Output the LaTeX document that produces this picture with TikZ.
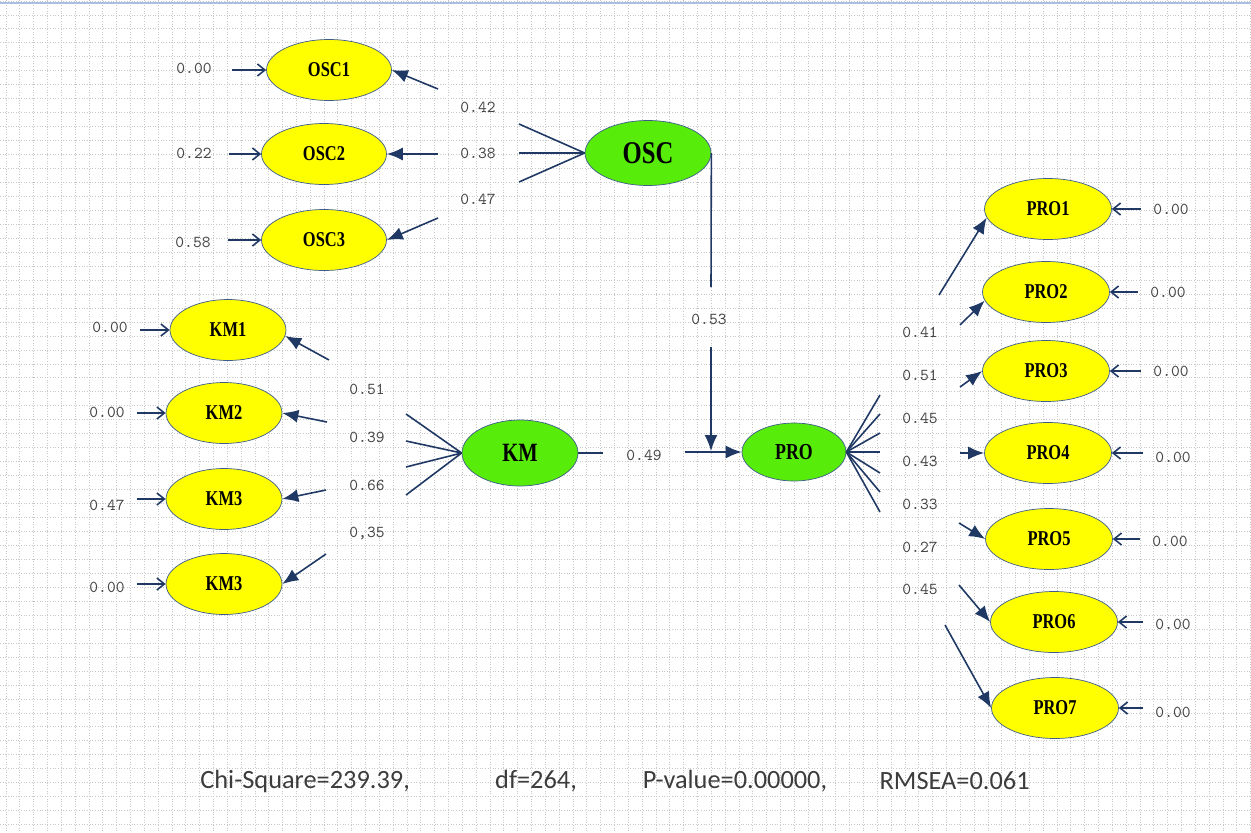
\documentclass[tikz,border=0pt]{standalone}
\usepackage{fontspec}
\usetikzlibrary{shapes.geometric}
\usetikzlibrary{arrows.meta}
\newfontfamily\ovalfont[FakeStretch=0.78]{Liberation Serif}
\newfontfamily\fitfont{Carlito}
\definecolor{arrowblue}{RGB}{31,56,100}
\definecolor{rimblue}{RGB}{62,92,140}
\definecolor{ovalyellow}{RGB}{255,255,0}
\definecolor{ovalgreen}{RGB}{88,236,10}
\definecolor{numgray}{RGB}{70,70,70}
\definecolor{gridgray}{RGB}{200,200,200}
\definecolor{topblue}{RGB}{170,190,225}
\definecolor{fitgray}{RGB}{60,60,60}

\begin{document}
\begin{tikzpicture}[x=0.02cm,y=-0.02cm,
    obs/.style={ellipse,draw=rimblue,fill=ovalyellow,inner sep=0pt,
      minimum width=2.5cm,minimum height=1.22cm,
      font=\ovalfont\bfseries\fontsize{12}{12}\selectfont},
    lat/.style={ellipse,draw=rimblue,fill=ovalgreen,inner sep=0pt,
      font=\ovalfont\bfseries\fontsize{18}{18}\selectfont},
    coef/.style={text=numgray,inner sep=1pt,
      font=\ttfamily\fontsize{9.5}{9.5}\selectfont},
    fitline/.style={text=fitgray,inner sep=0pt,
      font=\fitfont\fontsize{15}{15}\selectfont},
    gridline/.style={gridgray,densely dotted,line width=0.5pt},
    lnk/.style={arrowblue,line width=0.9pt},
    lnkarrow/.style={lnk,-{Latex[length=0.32cm,width=0.26cm]}},
    errarrow/.style={lnk,-{Straight Barb[length=0.15cm,width=0.24cm]},
      shorten <=0.21cm}]
  \useasboundingbox (0,0) rectangle (1251,832);
  \foreach \i in {0,...,90}
    \draw[gridline] ({6+13.83*\i},0) -- ({6+13.83*\i},832);
  \foreach \j in {0,...,59}
    \draw[gridline] (0,{1+13.96*\j}) -- (1251,{1+13.96*\j});
  \draw[topblue,line width=1pt] (0,3) -- (1251,3);

  \node[lat,minimum width=2.52cm,minimum height=1.3cm] (OSC) at (648,153) {OSC};
  \node[lat,minimum width=2.32cm,minimum height=1.32cm,
    font=\ovalfont\bfseries\fontsize{15}{15}\selectfont] (KM) at (520,453) {KM};
  \node[lat,minimum width=2.08cm,minimum height=1.16cm,
    font=\ovalfont\bfseries\fontsize{13}{13}\selectfont] (PRO) at (794,452) {PRO};

  \node[obs] (OSC1) at (329,70) {OSC1};
  \node[obs] (OSC2) at (324,154) {OSC2};
  \node[obs] (OSC3) at (324,240) {OSC3};
  \node[obs,minimum width=2.32cm] (KM1) at (228,330) {KM1};
  \node[obs,minimum width=2.32cm] (KM2) at (224,413) {KM2};
  \node[obs,minimum width=2.32cm] (KM3) at (224,499) {KM3};
  \node[obs,minimum width=2.32cm] (KM4) at (224,584) {KM3};
  \node[obs,minimum width=2.54cm] (PRO1) at (1048,209) {PRO1};
  \node[obs,minimum width=2.54cm] (PRO2) at (1046,292) {PRO2};
  \node[obs,minimum width=2.54cm] (PRO3) at (1046,371) {PRO3};
  \node[obs,minimum width=2.54cm] (PRO4) at (1048,453) {PRO4};
  \node[obs,minimum width=2.54cm] (PRO5) at (1049,539) {PRO5};
  \node[obs,minimum width=2.54cm] (PRO6) at (1054,622) {PRO6};
  \node[obs,minimum width=2.54cm] (PRO7) at (1055,708) {PRO7};

  \node[coef] (eOSC1) at (194,68) {0.00};
  \node[coef] (eOSC2) at (194,153) {0.22};
  \node[coef] (eOSC3) at (193,242) {0.58};
  \node[coef] (eKM1) at (110,327) {0.00};
  \node[coef] (eKM2) at (107,412) {0.00};
  \node[coef] (eKM3) at (107,505) {0.47};
  \node[coef] (eKM4) at (107,587) {0.00};
  \node[coef] (ePRO1) at (1171,209) {0.00};
  \node[coef] (ePRO2) at (1168,292) {0.00};
  \node[coef] (ePRO3) at (1171,371) {0.00};
  \node[coef] (ePRO4) at (1173,457) {0.00};
  \node[coef] (ePRO5) at (1170,541) {0.00};
  \node[coef] (ePRO6) at (1173,624) {0.00};
  \node[coef] (ePRO7) at (1173,712) {0.00};

  \draw[errarrow,shorten <=0.36cm] (eOSC1.east |- OSC1) -- (OSC1.west);
  \draw[errarrow,shorten <=0.3cm] (eOSC2.east |- OSC2) -- (OSC2.west);
  \draw[errarrow,shorten <=0.3cm] (eOSC3.east |- OSC3) -- (OSC3.west);
  \draw[errarrow] (eKM1.east |- KM1) -- (KM1.west);
  \draw[errarrow] (eKM2.east |- KM2) -- (KM2.west);
  \draw[errarrow] (eKM3.east |- KM3) -- (KM3.west);
  \draw[errarrow] (eKM4.east |- KM4) -- (KM4.west);
  \draw[errarrow] (ePRO1.west |- PRO1) -- (PRO1.east);
  \draw[errarrow] (ePRO2.west |- PRO2) -- (PRO2.east);
  \draw[errarrow] (ePRO3.west |- PRO3) -- (PRO3.east);
  \draw[errarrow] (ePRO4.west |- PRO4) -- (PRO4.east);
  \draw[errarrow] (ePRO5.west |- PRO5) -- (PRO5.east);
  \draw[errarrow] (ePRO6.west |- PRO6) -- (PRO6.east);
  \draw[errarrow] (ePRO7.west |- PRO7) -- (PRO7.east);

  \coordinate (oa1) at (519,124);
  \coordinate (oa2) at (519,153);
  \coordinate (oa3) at (519,182);
  \coordinate (ob1) at (438,89);
  \coordinate (ob2) at (438,154);
  \coordinate (ob3) at (438,218);
  \node[coef] (oc1) at (478,107) {0.42};
  \node[coef] (oc2) at (478,153) {0.38};
  \node[coef] (oc3) at (478,199) {0.47};
  \draw[lnk] (OSC.west) -- (oa1) (OSC.west) -- (oa2) (OSC.west) -- (oa3);
  \draw[lnkarrow] (ob1) -- (OSC1.east);
  \draw[lnkarrow] (ob2) -- (OSC2.east);
  \draw[lnkarrow] (ob3) -- (OSC3.east);

  \coordinate (ka1) at (406,414);
  \coordinate (ka2) at (406,441);
  \coordinate (ka3) at (406,467);
  \coordinate (ka4) at (406,495);
  \coordinate (kb1) at (329,360);
  \coordinate (kb2) at (327,422);
  \coordinate (kb3) at (326,490);
  \coordinate (kb4) at (326,554);
  \node[coef] (kc1) at (367,389) {0.51};
  \node[coef] (kc2) at (367,437) {0.39};
  \node[coef] (kc3) at (367,485) {0.66};
  \node[coef] (kc4) at (367,533) {0,35};
  \draw[lnk] (KM.west) -- (ka1) (KM.west) -- (ka2) (KM.west) -- (ka3) (KM.west) -- (ka4);
  \draw[lnkarrow] (kb1) -- (KM1.-6);
  \draw[lnkarrow] (kb2) -- (KM2.east);
  \draw[lnkarrow] (kb3) -- (KM3.east);
  \draw[lnkarrow] (kb4) -- (KM4.east);

  \foreach \n/\y in {1/395,2/414,3/433,4/452,5/473,6/492,7/512}
    \coordinate (pa\n) at (880,\y);
  \coordinate (pb1) at (939,295);
  \coordinate (pb2) at (960,325);
  \coordinate (pb3) at (960,387);
  \coordinate (pb4) at (960,453);
  \coordinate (pb5) at (959,523);
  \coordinate (pb6) at (959,585);
  \coordinate (pb7) at (945,625);
  \node[coef] (pc1) at (920,332) {0.41};
  \node[coef] (pc2) at (920,375) {0.51};
  \node[coef] (pc3) at (920,418) {0.45};
  \node[coef] (pc4) at (920,461) {0.43};
  \node[coef] (pc5) at (920,504) {0.33};
  \node[coef] (pc6) at (920,547) {0.27};
  \node[coef] (pc7) at (920,589) {0.45};
  \foreach \n in {1,...,7}
    \draw[lnk] (PRO.east) -- (pa\n);
  \draw[lnkarrow] (pb1) -- (PRO1.188);
  \draw[lnkarrow] (pb2) -- (PRO2.188);
  \draw[lnkarrow] (pb3) -- (PRO3.west);
  \draw[lnkarrow] (pb4) -- (PRO4.west);
  \draw[lnkarrow] (pb5) -- (PRO5.west);
  \draw[lnkarrow] (pb6) -- (PRO6.west);
  \draw[lnkarrow] (pb7) -- (PRO7.west);

  \coordinate (sa) at (711,287);
  \coordinate (sb) at (711,347);
  \coordinate (sc) at (711,451);
  \node[coef] (sd) at (709,319) {0.53};
  \draw[lnk] (OSC.east) -- (sa);
  \draw[lnkarrow] (sb) -- (sc);

  \coordinate (ta) at (603,453);
  \coordinate (tb) at (685,452);
  \node[coef] (td) at (644,455) {0.49};
  \draw[lnk] (KM.east) -- (ta);
  \draw[lnkarrow] (tb) -- (PRO.west);

  \node[fitline,anchor=west] (chi) at (200,781) {Chi-Square=239.39,};
  \node[fitline] (df) at (536,781) {df=264,};
  \node[fitline] (pval) at (735,781) {P-value=0.00000,};
  \node[fitline,anchor=east] (rmsea) at (1030,781) {RMSEA=0.061};
\end{tikzpicture}
\end{document}
